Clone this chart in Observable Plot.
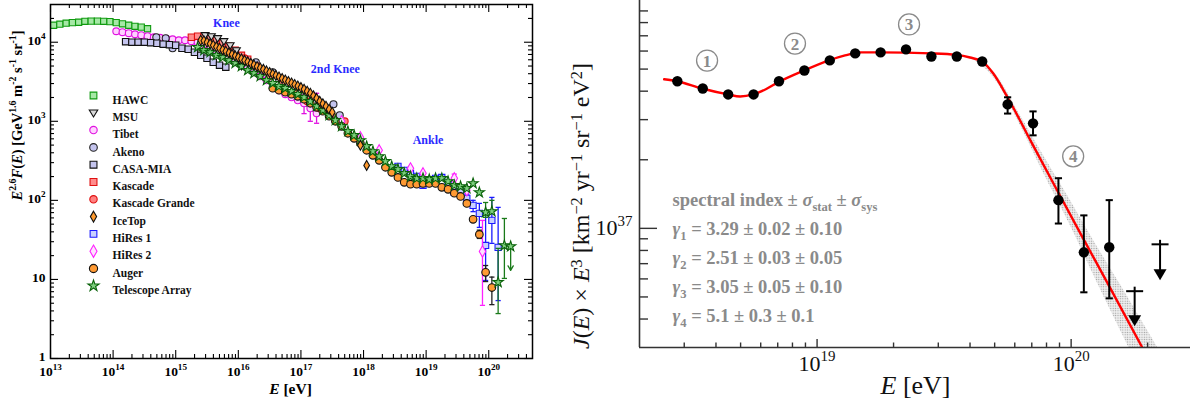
<!DOCTYPE html>
<html>
<head>
<meta charset="utf-8">
<script src="https://cdn.jsdelivr.net/npm/d3@7"></script>
<script src="https://cdn.jsdelivr.net/npm/@observablehq/plot@0.6"></script>
<style>
  body { margin: 0; background: #fff; }
  #wrap { position: relative; width: 1190px; height: 414px; overflow: hidden; background: #fff; }
  #wrap svg { position: absolute; top: 0; }
  #ytitle { position: absolute; white-space: nowrap; line-height: 1; color: #111;
            font-family: 'Liberation Serif', 'Times New Roman', serif; font-size: 24px; transform-origin: 50% 50%; }
  #ytitle sup { font-size: 0.68em; vertical-align: 0.42em; line-height: 0; }
</style>
</head>
<body>
<div id="wrap"></div>
<script>
// ===== Left panel: all-particle cosmic-ray spectrum, E^2.6 F(E) =====
// Each point: [log10(E/eV), E^2.6 F(E), (error high), (error low)]
const hawc = [[13.05,16400],[13.15,16900],[13.25,17400],[13.35,17700],[13.45,17900],[13.55,18400],[13.65,18500],[13.75,18500],[13.85,18400],[13.95,18200],[14.05,17700],[14.15,17100],[14.25,16400],[14.35,15900],[14.45,15500],[14.55,14800]];
const msu = [[15.47,12270],[15.57,11900],[15.67,11240],[15.77,10300],[15.87,9160],[15.97,7920],[16.05,5000]];
const tibet = [[14.05,13770],[14.15,13390],[14.25,13000],[14.35,12620],[14.45,12270],[14.55,11910],[14.65,11560],[14.75,11400],[14.85,11070],[14.95,10910],[15.05,10590],[15.15,10590],[15.25,10300],[15.35,10000],[15.45,9440],[15.55,8650],[15.65,7920],[15.75,7050],[15.85,6460],[15.95,5750],[16.05,5120],[16.15,4690],[16.25,4170],[16.35,3710],[16.45,3300],[16.55,2770],[16.65,2470],[16.75,2200],[16.85,2010],[16.95,1840],[17.05,1690,2200,1250],[17.15,1460,1900,1000],[17.25,1262,2260,944]];
const akeno = [[14.69,11560],[14.84,11240],[14.95,8390],[16.28,5580],[16.55,4170],[17.52,1640],[17.62,1190]];
const casaMia = [[14.2,10150],[14.3,10000],[14.4,10000],[14.5,10000],[14.6,9860],[14.7,9710],[14.8,9440],[14.9,9300],[15.0,9160],[15.1,8390],[15.2,8150],[15.3,7470],[15.4,6840],[15.5,6270],[15.6,5580],[15.7,5120],[15.8,4830]];
const kascade = [[15.25,11560],[15.35,11910],[15.45,11560],[15.55,11240],[15.65,10600],[15.75,9710],[15.85,8890],[15.95,7920],[16.05,6840],[16.15,6090]];
const kascadeGrande = [[16.1,6270],[16.3,4960],[16.5,3710],[16.7,2940],[16.9,2260],[17.1,1790],[17.3,1460],[17.5,1157],[17.7,1000]];
const iceTop = [[15.40,10600],[15.45,10450],[15.50,10000],[15.55,9550],[15.60,9150],[15.65,8750],[15.70,8380],[15.75,8000],[15.80,7680],[15.85,7330],[15.90,7020],[15.95,6720],[16.00,6440],[16.05,6170],[16.10,5900],[16.15,5650],[16.20,5400],[16.25,5170],[16.30,4940],[16.35,4730],[16.40,4540],[16.45,4340],[16.50,4150],[16.55,3970],[16.60,3800],[16.65,3640],[16.70,3480],[16.75,3330],[16.80,3190],[16.85,3050],[16.90,2920],[16.95,2800],[17.00,2670],[17.05,2540],[17.10,2400],[17.15,2260],[17.20,2100],[17.25,1950],[17.30,1790],[17.35,1670],[17.40,1550],[17.45,1420],[17.50,1300],[17.95,497],[18.05,277]];
const hiRes1 = [[18.55,269],[18.65,240],[18.75,220],[18.85,201],[18.95,155],[19.05,179],[19.15,190],[19.25,195],[19.35,160],[19.45,126,137,116],[19.55,130],[19.65,106,120,92],[19.75,86.5,100,72],[19.85,68.4,91.6,45.5],[19.95,26.9,68,9.7],[20.05,55.8,109,28.6],[20.15,25.4,81.5,5.4]];
const hiRes2 = [[17.65,1000],[17.95,627],[18.25,430],[18.75,254],[18.95,220],[19.45,190,215,165],[19.65,134],[19.9,22.6,55.8,4.7]];
const auger = [[16.55,2620],[16.65,2470],[16.75,2330],[16.85,2200],[16.95,2070],[17.05,1900],[17.15,1690],[17.25,1500],[17.35,1340],[17.45,1160],[17.55,1000],[17.65,864],[17.75,705],[17.85,609],[17.95,527],[18.05,430],[18.15,371],[18.25,321],[18.35,262],[18.45,226],[18.55,195],[18.65,169],[18.75,160],[18.85,160],[18.95,164],[19.05,164],[19.15,164],[19.25,146],[19.35,138],[19.45,123],[19.55,112],[19.65,91.6],[19.75,57.5,61,54],[19.85,37.1,42,33],[19.95,12.3,15.0,9.4],[20.05,7.9,10.7,4.8]];
const telescopeArray = [[15.35,8650],[15.45,7920],[15.55,7470],[15.65,6840],[15.75,6450],[15.85,5910],[15.95,5420],[16.05,4960],[16.15,4420],[16.25,4050],[16.35,3710],[16.45,3300],[16.55,3030],[16.65,2770],[16.75,2620],[16.85,2400],[16.95,2200],[17.05,2010],[17.15,1790],[17.25,1550],[17.35,1380],[17.45,1190],[17.55,1030],[17.65,865],[17.75,747],[17.85,665],[17.95,574],[18.05,483],[18.15,417],[18.25,360],[18.35,312],[18.45,269],[18.55,247],[18.65,220],[18.75,201],[18.85,190],[18.95,190],[19.05,184],[19.15,190],[19.25,190],[19.35,174],[19.45,155],[19.55,150],[19.65,142],[19.75,164],[19.85,126],[19.95,70.5,94,61],[20.05,72.6,100,68],[20.15,9.2,24.7,3.7],[20.25,26.9,59,10.3],[20.35,26.2]];
// Telescope Array upper limit: [log10 E, from, to]
const taLimit = [[20.35, 26.2, 13.0]];

const leftXTicks = [1e13,1e14,1e15,1e16,1e17,1e18,1e19,1e20];
const leftXTickLabels = ["10^{13}","10^{14}","10^{15}","10^{16}","10^{17}","10^{18}","10^{19}","10^{20}"];
const leftYTicks = [1,10,100,1000,10000];
const leftYTickLabels = ["1","10","10^{2}","10^{3}","10^{4}"];

const featureNames = ["Knee","2nd Knee","Ankle"];
const featureLgE = [15.81, 17.55, 19.03];
const featureFlux = [17400, 4550, 574];

// ===== Right panel: Auger spectrum J(E) x E^3 =====
const augerLgE = [18.45,18.55,18.65,18.75,18.85,18.95,19.05,19.15,19.25,19.35,19.45,19.55,19.65,19.75,19.85,19.95,20.05,20.15];
const augerJE3 = [4.42e37,4.11e37,3.87e37,3.87e37,4.42e37,4.93e37,5.46e37,5.86e37,5.92e37,6.10e37,5.68e37,5.68e37,5.40e37,3.50e37,2.89e37,1.33e37,7.85e36,8.26e36];
const augerErrHi = [null,null,null,null,null,null,null,null,null,null,null,null,5.52e37,3.76e37,3.26e37,1.66e37,1.14e37,1.33e37];
const augerErrLo = [null,null,null,null,null,null,null,null,null,null,null,null,5.30e37,3.19e37,2.56e37,1.05e37,5.24e36,4.93e36];
const limitLgE = [20.25, 20.35];
const limitJE3 = [5.30e36, 8.51e36];
const limitArrowTo = [3.72e36, 5.92e36];

const fitLgE = [18.398,18.449,18.547,18.650,18.697,18.748,18.80,18.846,18.949,19.047,19.110,19.169,19.248,19.449,19.547,19.602,19.650,19.693,19.748,19.846,19.949,20.047,20.146,20.28];
const fitJE3 = [4.51e37,4.42e37,4.11e37,3.87e37,3.79e37,3.87e37,4.09e37,4.37e37,4.93e37,5.46e37,5.74e37,5.92e37,5.92e37,5.86e37,5.77e37,5.62e37,5.40e37,4.79e37,3.79e37,2.36e37,1.44e37,9.04e36,5.68e36,3.0e36];
const bandLgE = [19.60,19.70,19.80,19.90,20.00,20.10,20.20,20.30,20.40];
const bandHi = [5.62e37,4.79e37,3.13e37,2.01e37,1.31e37,8.41e36,5.51e36,3.57e36,2.31e36];
const bandLo = [5.62e37,4.51e37,2.83e37,1.67e37,1.01e37,5.86e36,3.46e36,2.07e36,1.35e36];

const regionNames = ["1","2","3","4"];
const regionLgE = [18.567, 18.913, 19.362, 20.008];
const regionJE3 = [5.45e37, 6.47e37, 7.85e37, 2.07e37];

const indexLines = [
  "spectral index ± *σ*_{stat} ± *σ*_{sys}",
  "*γ*_{1} = 3.29 ± 0.02 ± 0.10",
  "*γ*_{2} = 2.51 ± 0.03 ± 0.05",
  "*γ*_{3} = 3.05 ± 0.05 ± 0.10",
  "*γ*_{4} = 5.1 ± 0.3 ± 0.1"
];

const rightXTicks = [1e19, 1e20];
const rightXTickLabels = ["10^{19}", "10^{20}"];
const rightYTicks = [1e37];
const rightYTickLabels = ["10^{37}"];
const rightYTitle = "*J*(*E*) × *E*^{3} [km^{−2} yr^{−1} sr^{−1} eV^{2}]";

// ---------- helpers ----------
const SERIF = "'Liberation Serif', 'Times New Roman', serif";
const svgNS = "http://www.w3.org/2000/svg";

// custom marker shapes
const triDown = {draw(ctx, size) { const r = Math.sqrt(size / Math.PI) * 1.15; ctx.moveTo(-r, -r * 0.65); ctx.lineTo(r, -r * 0.65); ctx.lineTo(0, r); ctx.closePath(); }};
const capLine = {draw(ctx, size) { const w = Math.sqrt(size / Math.PI); ctx.moveTo(-w, 0); ctx.lineTo(w, 0); }};
const headDown = {draw(ctx, size) { const w = Math.sqrt(size / Math.PI); ctx.moveTo(-w, -w * 1.7); ctx.lineTo(w, -w * 1.7); ctx.lineTo(0, 0); ctx.closePath(); }};

function minorTicks(lo, hi) {
  const out = [];
  for (let p = Math.floor(Math.log10(lo)); p <= Math.ceil(Math.log10(hi)); p++)
    for (let m = 2; m <= 9; m++) { const v = m * 10 ** p; if (v > lo * 1.0001 && v < hi * 0.9999) out.push(v); }
  return out;
}

// turn ^{..} _{..} and *..* markup into tspans
function richText(svg) {
  for (const t of svg.querySelectorAll("text")) {
    const s = t.textContent;
    if (!/[\^_*]/.test(s)) continue;
    const fs = parseFloat(getComputedStyle(t).fontSize);
    while (t.firstChild) t.removeChild(t.firstChild);
    let cur = 0, italic = false;
    for (const p of s.match(/\^\{[^}]*\}|_\{[^}]*\}|\*|[^\^_*]+/g)) {
      if (p === "*") { italic = !italic; continue; }
      let txt = p, shift = 0, scale = 1;
      if (p[0] === "^") { txt = p.slice(2, -1); shift = -0.42 * fs; scale = 0.68; }
      else if (p[0] === "_") { txt = p.slice(2, -1); shift = 0.3 * fs; scale = 0.68; }
      const ts = document.createElementNS(svgNS, "tspan");
      ts.textContent = txt;
      if (shift !== cur) ts.setAttribute("dy", (shift - cur).toFixed(2));
      cur = shift;
      if (scale !== 1) ts.setAttribute("font-size", (fs * scale).toFixed(2));
      if (italic) ts.setAttribute("font-style", "italic");
      t.appendChild(ts);
    }
  }
}
// same markup, as HTML
function richHtml(s) {
  return s.replace(/\^\{([^}]*)\}/g, "<sup>$1</sup>").replace(/\*([^*]*)\*/g, "<i>$1</i>");
}

// ---------- left panel ----------
const L = {width: 560, height: 414, ml: 50, mr: 28, mt: 4, mb: 56};
const lfw = L.width - L.ml - L.mr, lfh = L.height - L.mt - L.mb;
const lXDom = [1e13, 5e20], lYDom = [1, 3e4];

const series = [
  {name: "HAWC", data: hawc, symbol: "square", fill: "#a6e8a6", stroke: "#0f9a0f", r: 3.5},
  {name: "MSU", data: msu, symbol: triDown, fill: "#d8d8d8", stroke: "#111", r: 3.4},
  {name: "Tibet", data: tibet, symbol: "circle", fill: "#ffd0ff", stroke: "#e010e0", r: 3.4, err: "#e010e0"},
  {name: "Akeno", data: akeno, symbol: "circle", fill: "#c4c4ee", stroke: "#222", r: 3.5},
  {name: "CASA-MIA", data: casaMia, symbol: "square", fill: "#c4c4ee", stroke: "#111", r: 3.6},
  {name: "Kascade", data: kascade, symbol: "square", fill: "#ff8c8c", stroke: "#e01010", r: 3.6},
  {name: "Kascade Grande", data: kascadeGrande, symbol: "circle", fill: "#ff8080", stroke: "#e01010", r: 3.4},
  {name: "IceTop", data: iceTop, symbol: "diamond", fill: "#ff9a2e", stroke: "#111", r: 3.0},
  {name: "HiRes 1", data: hiRes1, symbol: "square", fill: "#c8d0ff", stroke: "#1a1aff", r: 3.5, err: "#1a1aff"},
  {name: "HiRes 2", data: hiRes2, symbol: "diamond", fill: "#ffe0ff", stroke: "#ff20ff", r: 3.4, err: "#ff20ff"},
  {name: "Auger", data: auger, symbol: "circle", fill: "#ff9a33", stroke: "#111", r: 3.8, err: "#222"},
  {name: "Telescope Array", data: telescopeArray, symbol: "star", fill: "#7fd07f", stroke: "#0a620a", r: 3.2, err: "#1a7a1a"}
];
const drawOrder = ["HAWC","Tibet","Akeno","CASA-MIA","Kascade","Kascade Grande","MSU","HiRes 1","HiRes 2","Auger","Telescope Array","IceTop"];

const lMarks = [];
// ticks on all four sides, pointing inward
const lxMinor = minorTicks(lXDom[0], lXDom[1]), lyMinor = minorTicks(lYDom[0], lYDom[1]);
const tk = {stroke: "#000", strokeWidth: 1.1};
lMarks.push(
  Plot.tickY(leftYTicks, {y: d => d, insetRight: lfw - 8, ...tk}),
  Plot.tickY(lyMinor, {y: d => d, insetRight: lfw - 4, ...tk}),
  Plot.tickY(leftYTicks, {y: d => d, insetLeft: lfw - 8, ...tk}),
  Plot.tickY(lyMinor, {y: d => d, insetLeft: lfw - 4, ...tk}),
  Plot.tickX(leftXTicks, {x: d => d, insetTop: lfh - 8, ...tk}),
  Plot.tickX(lxMinor, {x: d => d, insetTop: lfh - 4, ...tk}),
  Plot.tickX(leftXTicks, {x: d => d, insetBottom: lfh - 8, ...tk}),
  Plot.tickX(lxMinor, {x: d => d, insetBottom: lfh - 4, ...tk})
);
for (const name of drawOrder) {
  const s = series.find(d => d.name === name);
  const withErr = s.data.filter(d => d.length > 2);
  if (withErr.length) {
    const c = s.err || s.stroke;
    lMarks.push(
      Plot.ruleX(withErr, {x: d => 10 ** d[0], y1: d => d[3], y2: d => d[2], stroke: c, strokeWidth: 1.3}),
      Plot.dot(withErr, {x: d => 10 ** d[0], y: d => d[2], symbol: capLine, r: 2.6, stroke: c, fill: "none", strokeWidth: 1.3}),
      Plot.dot(withErr, {x: d => 10 ** d[0], y: d => d[3], symbol: capLine, r: 2.6, stroke: c, fill: "none", strokeWidth: 1.3})
    );
  }
  if (name === "Telescope Array") {
    lMarks.push(Plot.arrow(taLimit, {x: d => 10 ** d[0], y1: d => d[1], y2: d => d[2], stroke: "#1a7a1a", strokeWidth: 1.3, headLength: 6, bend: 0}));
  }
  lMarks.push(Plot.dot(s.data, {x: d => 10 ** d[0], y: d => d[1], symbol: s.symbol, r: s.r, fill: s.fill, stroke: s.stroke, strokeWidth: 1.1}));
}
lMarks.push(Plot.frame({stroke: "#000", strokeWidth: 1.5}));
// feature annotations
lMarks.push(Plot.text(featureNames, {x: (d, i) => 10 ** featureLgE[i], y: (d, i) => featureFlux[i], text: d => d, fill: "#2a2aff", fontWeight: "bold", fontSize: 12, fontFamily: SERIF}));
// legend
series.forEach((s, i) => {
  const dy = 91 + i * 17.3;
  lMarks.push(
    Plot.dot([s.name], {x: null, y: null, frameAnchor: "top-left", dx: 43, dy, symbol: s.symbol, r: s.r + 0.3, fill: s.fill, stroke: s.stroke, strokeWidth: 1.1}),
    Plot.text([s.name], {x: null, y: null, frameAnchor: "top-left", dx: 62, dy, text: d => d, textAnchor: "start", fontWeight: "bold", fontSize: 11.5, fontFamily: SERIF, fill: "#111"})
  );
});
// tick labels and axis titles
lMarks.push(
  Plot.text(leftYTicks, {y: d => d, text: (d, i) => leftYTickLabels[i], frameAnchor: "left", textAnchor: "end", dx: -5, dy: -2, fontWeight: "bold", fontSize: 13.5, fontFamily: SERIF, fill: "#000"}),
  Plot.text(leftXTicks, {x: d => d, text: (d, i) => leftXTickLabels[i], frameAnchor: "bottom", dy: 17, fontWeight: "bold", fontSize: 13.5, fontFamily: SERIF, fill: "#000"}),
  Plot.text(["*E* [eV]"], {x: null, y: null, text: d => d, frameAnchor: "bottom", dx: 290 - (L.ml + lfw / 2), dy: 35, fontWeight: "bold", fontSize: 15.5, fontFamily: SERIF, fill: "#000"}),
  Plot.text(["*E*^{2.6}*F*(*E*) [GeV^{1.6} m^{-2} s^{-1} sr^{-1}]"], {x: null, y: null, text: d => d, frameAnchor: "left", rotate: -90, dx: -33, dy: 19, fontWeight: "bold", fontSize: 14.5, fontFamily: SERIF, fill: "#000"})
);

const leftSvg = Plot.plot({
  width: L.width, height: L.height,
  marginLeft: L.ml, marginRight: L.mr, marginTop: L.mt, marginBottom: L.mb,
  x: {type: "log", domain: lXDom, axis: null},
  y: {type: "log", domain: lYDom, axis: null},
  style: {fontFamily: SERIF, background: "transparent", overflow: "visible"},
  marks: lMarks
});

// ---------- right panel ----------
const R = {width: 630, height: 414, ml: 79, mr: 0, mt: 0, mb: 67};
const rfw = R.width - R.ml - R.mr, rfh = R.height - R.mt - R.mb;
const rXDom = [2e18, 2.95e20], rYDom = [3e36, 1e38];
const rxMinor = minorTicks(rXDom[0], rXDom[1]), ryMinor = minorTicks(rYDom[0], rYDom[1]);

const pts = augerLgE.map((lg, i) => ({E: 10 ** lg, v: augerJE3[i], hi: augerErrHi[i], lo: augerErrLo[i]}));
const errPts = pts.filter(d => d.hi != null);
const lims = limitLgE.map((lg, i) => ({E: 10 ** lg, v: limitJE3[i], to: limitArrowTo[i]}));
const fit = fitLgE.map((lg, i) => ({E: 10 ** lg, v: fitJE3[i]}));
const band = bandLgE.map((lg, i) => ({E: 10 ** lg, lo: bandLo[i], hi: bandHi[i]}));
const regions = regionNames.map((n, i) => ({n, E: 10 ** regionLgE[i], v: regionJE3[i]}));

const axisC = "#333";
const rMarks = [
  Plot.areaY(band, {x: "E", y1: "lo", y2: "hi", fill: "url(#bandDots)", curve: "monotone-x", clip: true}),
  Plot.line(fit, {x: "E", y: "v", stroke: "#ff0000", strokeWidth: 2.4, curve: "monotone-x", clip: true}),
  Plot.ruleX(errPts, {x: "E", y1: "lo", y2: "hi", stroke: "#000", strokeWidth: 2}),
  Plot.dot(errPts, {x: "E", y: "hi", symbol: capLine, r: 3.6, stroke: "#000", fill: "none", strokeWidth: 2}),
  Plot.dot(errPts, {x: "E", y: "lo", symbol: capLine, r: 3.6, stroke: "#000", fill: "none", strokeWidth: 2}),
  Plot.dot(pts, {x: "E", y: "v", r: 5.2, fill: "#000"}),
  // upper limits
  Plot.ruleX(lims, {x: "E", y1: "to", y2: "v", stroke: "#000", strokeWidth: 2, dy: -4}),
  Plot.dot(lims, {x: "E", y: "v", symbol: capLine, r: 8.5, stroke: "#000", fill: "none", strokeWidth: 2}),
  Plot.dot(lims, {x: "E", y: "to", symbol: headDown, r: 6.5, fill: "#000", stroke: "none"}),
  // circled region numbers
  Plot.dot(regions, {x: "E", y: "v", r: 10.5, stroke: "#8a8a8a", strokeWidth: 1.3, fill: "none"}),
  Plot.text(regions, {x: "E", y: "v", text: "n", fill: "#8a8a8a", fontSize: 17, fontFamily: SERIF, fontWeight: "bold", dy: 0.5}),
  // axes
  Plot.ruleX([rXDom[0]], {stroke: axisC, strokeWidth: 1.6}),
  Plot.ruleY([rYDom[0]], {stroke: axisC, strokeWidth: 1.6}),
  Plot.tickY(rightYTicks, {y: d => d, insetRight: rfw - 18, stroke: axisC, strokeWidth: 1.4}),
  Plot.tickY(ryMinor, {y: d => d, insetRight: rfw - 9, stroke: axisC, strokeWidth: 1.4}),
  Plot.tickX(rightXTicks, {x: d => d, insetTop: rfh - 8, stroke: axisC, strokeWidth: 1.4}),
  Plot.tickX(rxMinor, {x: d => d, insetTop: rfh - 4.5, stroke: axisC, strokeWidth: 1.4}),
  Plot.text(rightYTicks, {y: d => d, text: (d, i) => rightYTickLabels[i], frameAnchor: "left", textAnchor: "end", dx: -7, fontSize: 22, fontFamily: SERIF, fill: "#111"}),
  Plot.text(rightXTicks, {x: d => d, text: (d, i) => rightXTickLabels[i], frameAnchor: "bottom", dy: 23, fontSize: 22, fontFamily: SERIF, fill: "#111"}),
  Plot.text(["*E* [eV]"], {x: null, y: null, text: d => d, frameAnchor: "bottom", dx: 355 - (R.ml + rfw / 2), dy: 46, fontSize: 26, fontFamily: SERIF, fill: "#111"})
];
const indexBaselines = [205, 234, 263, 292, 321];
indexLines.forEach((line, i) => {
  rMarks.push(Plot.text([line], {x: null, y: null, text: d => d, frameAnchor: "top-left", dx: 33, dy: indexBaselines[i], lineAnchor: "bottom", textAnchor: "start", fontSize: 18.5, fontWeight: "bold", fontFamily: SERIF, fill: "#8a8a8a"}));
});

const rightSvg = Plot.plot({
  width: R.width, height: R.height,
  marginLeft: R.ml, marginRight: R.mr, marginTop: R.mt, marginBottom: R.mb,
  x: {type: "log", domain: rXDom, axis: null},
  y: {type: "log", domain: rYDom, axis: null},
  style: {fontFamily: SERIF, background: "transparent", overflow: "visible"},
  marks: rMarks
});

// dotted fill for the uncertainty band
const defs = d3.select(rightSvg).insert("defs", ":first-child");
const pat = defs.append("pattern").attr("id", "bandDots").attr("width", 2.4).attr("height", 2.4).attr("patternUnits", "userSpaceOnUse");
pat.append("rect").attr("width", 2.4).attr("height", 2.4).attr("fill", "#efefef");
pat.append("circle").attr("cx", 1.2).attr("cy", 1.2).attr("r", 0.65).attr("fill", "#9a9a9a");

const wrap = document.getElementById("wrap");
leftSvg.style.left = "0px";
rightSvg.style.left = "560px";
wrap.appendChild(leftSvg);
wrap.appendChild(rightSvg);
richText(leftSvg);
richText(rightSvg);

// rotated title of the right panel, fitted to the axis height
const yt = document.createElement("div");
yt.id = "ytitle";
yt.innerHTML = richHtml(rightYTitle);
wrap.appendChild(yt);
const maxLen = 372;
let w = yt.offsetWidth;
if (w > maxLen) { yt.style.fontSize = (24 * maxLen / w).toFixed(2) + "px"; w = yt.offsetWidth; }
const h = yt.offsetHeight;
const cx = 581, cy = 206;
yt.style.left = (cx - w / 2) + "px";
yt.style.top = (cy - h / 2) + "px";
yt.style.transform = "rotate(-90deg)";
</script>
</body>
</html>
